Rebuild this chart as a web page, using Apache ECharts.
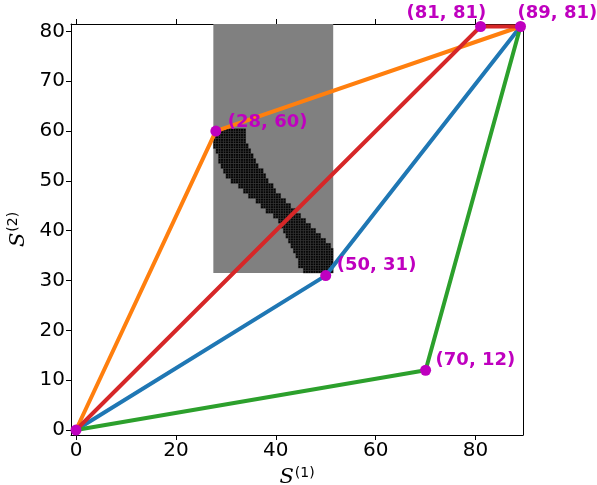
<!DOCTYPE html>
<html>
<head>
<meta charset="utf-8">
<script src="https://cdn.jsdelivr.net/npm/echarts@6/dist/echarts.min.js"></script>
<style>html,body{margin:0;padding:0;background:#fff}#c{width:597px;height:485px}</style>
</head>
<body>
<div id="c"></div>
<script>
// ---- data ----
const xTicks = [0, 20, 40, 60, 80];
const yTicks = [0, 10, 20, 30, 40, 50, 60, 70, 80];
const blueLine = [[0, 0], [50, 31], [89, 81]];
const orangeLine = [[0, 0], [28, 60], [89, 81]];
const greenLine = [[0, 0], [70, 12], [89, 81]];
const redLine = [[0, 0], [81, 81], [89, 81]];
const keyPoints = [[0, 0], [28, 60], [50, 31], [70, 12], [81, 81], [89, 81]];
const keyLabels = ['', '(28, 60)', '(50, 31)', '(70, 12)', '(81, 81)', '(89, 81)'];
const xTitle = ['S', '(1)'];
const yTitle = ['S', '(2)'];
// grey search region: [xMin, xMax, yMin, yMax]
const greyRegion = [27.5, 51.5, 31.5, 81.5];
// black band rows: [rowCenterY, xLeft, xRight]
const blackRows = [
  [60, 28, 34], [59, 27.5, 34], [58, 27.5, 34], [57, 27.5, 34.5],
  [56, 28, 35], [55, 28.5, 35.5], [54, 28.5, 36], [53, 29, 36.5],
  [52, 29.5, 37.5], [51, 30, 38], [50, 31, 38.5], [49, 32.5, 39.5],
  [48, 33.5, 40], [47, 34.5, 41], [46, 36, 42], [45, 37, 43],
  [44, 38, 44], [43, 39.5, 45], [42, 40.5, 46], [41, 41, 47],
  [40, 41.5, 48], [39, 42, 49], [38, 42.5, 50], [37, 43, 51],
  [36, 43.5, 51.5], [35, 44, 51.5], [34, 44.5, 51.5], [33, 44.5, 51.5],
  [32, 45.5, 51.5]
];

// ---- style ----
const MAG = '#bf00bf';
const labelOffsets = [[0, 0], [6.5, -9], [5.5, -10], [4.5, -10], [-79.5, -13], [-8.5, -13]];
const FONT = 'DejaVu Sans';

const chart = echarts.init(document.getElementById('c'), null, {renderer: 'canvas'});

function lineSeries(data, color) {
  return {
    type: 'line', data: data, symbol: 'none', z: 5,
    lineStyle: {color: color, width: 4}, silent: true, animation: false
  };
}
const titleRich = {
  s: {fontFamily: 'DejaVu Serif', fontStyle: 'italic', fontSize: 21, color: '#000'},
  p: {fontFamily: FONT, fontSize: 14, color: '#000', padding: [0, 0, 9, 1]}
};

const option = {
  animation: false,
  grid: {left: 71, right: 74, top: 24, bottom: 50, containLabel: false, outerBoundsMode: 'none'},
  xAxis: [{
    type: 'value', min: -1, max: 89.5,
    position: 'bottom',
    axisLine: {onZero: false, lineStyle: {color: '#000', width: 1}},
    axisTick: {show: true, inside: false, length: 5, lineStyle: {color: '#000'},
      customValues: xTicks},
    axisLabel: {color: '#000', fontSize: 20, fontFamily: FONT, margin: 6,
      customValues: xTicks},
    splitLine: {show: false},
    name: '{s|' + xTitle[0] + '}{p|' + xTitle[1] + '}', nameLocation: 'middle', nameGap: 28,
    nameTextStyle: {rich: titleRich}
  }, {
    type: 'value', min: -1, max: 89.5, position: 'top',
    axisLine: {onZero: false, lineStyle: {color: '#000', width: 1}},
    axisTick: {show: true, inside: false, length: 5, lineStyle: {color: '#000'}, customValues: xTicks},
    axisLabel: {show: false, customValues: xTicks},
    splitLine: {show: false}
  }],
  yAxis: [{
    type: 'value', min: -1, max: 81.5,
    position: 'left',
    axisLine: {show: true, onZero: false, lineStyle: {color: '#000', width: 1}},
    axisTick: {show: true, inside: false, length: 5, lineStyle: {color: '#000'}, customValues: yTicks},
    axisLabel: {color: '#000', fontSize: 20, fontFamily: FONT, margin: 6, customValues: yTicks},
    splitLine: {show: false},
    name: '{s|' + yTitle[0] + '}{p|' + yTitle[1] + '}', nameLocation: 'middle', nameGap: 37, nameRotate: 90,
    nameTextStyle: {rich: titleRich}
  }, {
    type: 'value', min: -1, max: 81.5, position: 'right',
    axisLine: {show: true, onZero: false, lineStyle: {color: '#000', width: 1}},
    axisTick: {show: false}, axisLabel: {show: false}, splitLine: {show: false}
  }],
  series: [
    {
      type: 'custom', z: 1, silent: true,
      data: [greyRegion],
      renderItem: function (params, api) {
        const p0 = api.coord([api.value(0), api.value(3)]);
        const p1 = api.coord([api.value(1), api.value(2)]);
        return {type: 'rect', shape: {x: p0[0], y: p0[1], width: p1[0] - p0[0], height: p1[1] - p0[1]},
          style: {fill: '#808080'}};
      }
    },
    {
      type: 'custom', z: 2, silent: true,
      data: blackRows,
      renderItem: function (params, api) {
        const yc = api.value(0), xl = api.value(1), xr = api.value(2);
        const children = [];
        for (let yy = yc - 0.5; yy < yc + 0.5 - 1e-9; yy += 0.5) {
          for (let xx = xl; xx < xr - 1e-9; xx += 0.5) {
            const a = api.coord([xx, yy + 0.5]);
            const b = api.coord([xx + 0.5, yy]);
            children.push({type: 'rect', shape: {x: a[0], y: a[1], width: b[0] - a[0], height: b[1] - a[1]},
              style: {fill: '#000', stroke: 'rgba(90,90,90,0.6)', lineWidth: 0.4}});
          }
        }
        return {type: 'group', children: children};
      }
    },
    lineSeries(blueLine, '#1f77b4'),
    lineSeries(orangeLine, '#ff7f0e'),
    lineSeries(greenLine, '#2ca02c'),
    lineSeries(redLine, '#d62728'),
    {
      type: 'scatter', z: 10, symbol: 'circle', symbolSize: 11,
      itemStyle: {color: MAG, opacity: 1},
      data: keyPoints.map(function (p, i) {
        return {
          value: p,
          label: {
            show: keyLabels[i] !== '', formatter: keyLabels[i], position: 'right', distance: 0,
            offset: labelOffsets[i], color: MAG, fontSize: 18, fontWeight: 'bold', fontFamily: FONT,
            align: 'left', verticalAlign: 'middle', opacity: 1
          }
        };
      })
    }
  ]
};
chart.setOption(option);
</script>
</body>
</html>
